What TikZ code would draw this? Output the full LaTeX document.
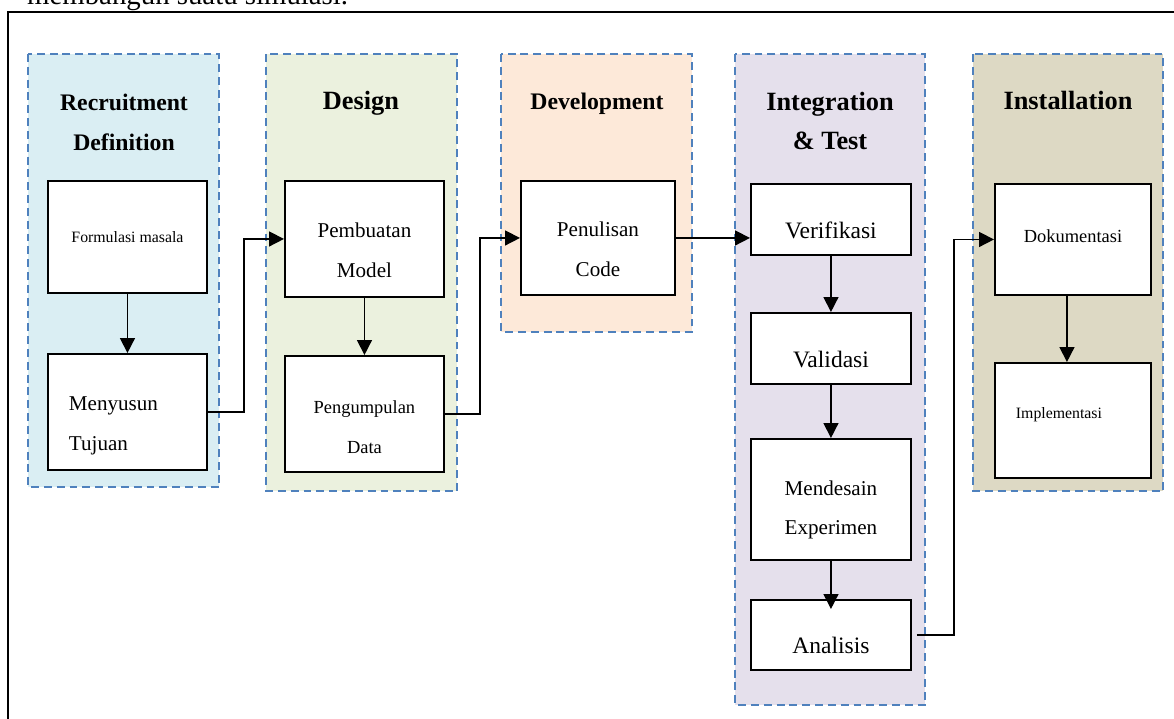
\documentclass[tikz,border=0pt]{standalone}
\usepackage{fontspec}
\setmainfont{Liberation Serif}
\usetikzlibrary{arrows.meta}
\definecolor{dashblue}{HTML}{4F81BD}
\definecolor{reqfill}{HTML}{DAEEF3}
\definecolor{desfill}{HTML}{EBF1DE}
\definecolor{devfill}{HTML}{FDE9D9}
\definecolor{intfill}{HTML}{E5E0EC}
\definecolor{insfill}{HTML}{DDD9C4}
\tikzset{
  panel/.style={draw=dashblue, line width=1.4pt, dash pattern=on 4.5pt off 2.8pt},
  stagebox/.style={draw, line width=1.1pt, fill=white, inner sep=0pt, align=center, anchor=north west},
  sz/.style 2 args={minimum width=#1*0.02cm, minimum height=#2*0.02cm},
  flow/.style={line width=0.9pt, -{Triangle[width=8.5pt,length=8.5pt]}},
  phasetitle/.style={font=\bfseries\fontsize{15}{22.7}\selectfont, align=center},
  bigtxt/.style={font=\fontsize{12}{22.7}\selectfont},
  midtxt/.style={font=\fontsize{10.5}{22.7}\selectfont},
  smalltxt/.style={font=\fontsize{9}{22.7}\selectfont},
}
\begin{document}
\begin{tikzpicture}[x=0.02cm,y=-0.02cm]
\useasboundingbox (0,0) rectangle (1174,719);
%frame
\node[anchor=base west, font=\fontsize{16.4}{20}\selectfont] (intro) at (21,5) {membangun suatu simulasi.};
\draw[line width=0.75pt] (8,740) |- (1190,12);
%panels
\draw[panel, fill=reqfill] (28,54) rectangle (219,487);
\draw[panel, fill=desfill] (266,54) rectangle (457,491);
\draw[panel, fill=devfill] (501,54) rectangle (692,332);
\draw[panel, fill=intfill] (735,54) rectangle (925,705);
\draw[panel, fill=insfill] (973,54) rectangle (1163,491);
%titles
\node[phasetitle, font=\bfseries\fontsize{13.5}{22.7}\selectfont] (reqT) at (124,122) {Recruitment\\Definition};
\node[phasetitle, anchor=base] (desT) at (361,110) {Design};
\node[phasetitle, font=\bfseries\fontsize{13.5}{22.7}\selectfont, anchor=base] (devT) at (597,110) {Development};
\node[phasetitle] (intT) at (830,121) {Integration\\\& Test};
\node[phasetitle, anchor=base] (insT) at (1068,110) {Installation};
%boxes
\node[stagebox, smalltxt, sz={159}{112}] (form) at (47,180) {Formulasi masala};
\node[stagebox, bigtxt, align=left, sz={159}{116}] (meny) at (47,353) {\rule{0pt}{23.6pt}Menyusun\hspace*{0.56cm}\\Tujuan};
\node[stagebox, bigtxt, sz={159}{116}] (pemb) at (284,180) {\rule{0pt}{21pt}Pembuatan\\Model};
\node[stagebox, midtxt, sz={159}{116}] (peng) at (284,355) {\rule{0pt}{22pt}Pengumpulan\\Data};
\node[stagebox, bigtxt, sz={154}{114}] (penu) at (520,180) {\rule{0pt}{21.5pt}Penulisan\\Code};
\node[stagebox, font=\fontsize{13.4}{22.7}\selectfont, sz={160}{71}] (veri) at (750,183) {\rule{0pt}{22pt}Verifikasi};
\node[stagebox, font=\fontsize{13.4}{22.7}\selectfont, sz={160}{71}] (vali) at (750,312) {\rule{0pt}{22pt}Validasi};
\node[stagebox, bigtxt, sz={160}{121}] (mend) at (750,438) {\rule{0pt}{20.2pt}Mendesain\\Experimen};
\node[stagebox, font=\fontsize{13.4}{22.7}\selectfont, sz={160}{70}] (anal) at (750,599) {\rule{0pt}{21.5pt}Analisis};
\node[stagebox, midtxt, sz={156}{111}] (doku) at (994,183) {Dokumentasi\rule[-4.3pt]{0pt}{4.3pt}};
\node[stagebox, smalltxt, sz={156}{115}] (impl) at (994,362) {Implementasi\hspace*{0.56cm}\rule[-9pt]{0pt}{9pt}};
%arrows
\draw[flow] (form) -- (meny);
\draw[flow] (meny.east) -- ++(36,0) |- (pemb.west);
\draw[flow] (pemb) -- (peng);
\draw[flow] ([xshift=-0.04cm]peng.east) -- ++(37,0) |- (penu.west);
\draw[flow] (penu.east) -- (penu.east -| veri.west);
\draw[flow] (veri) -- (vali);
\draw[flow] (vali) -- (mend);
\draw[flow, shorten >=-0.2cm] (mend) -- (anal);
\draw[flow] ([xshift=0.1cm]anal.east) -- ++(37,0) |- (doku.west);
\draw[flow] ([xshift=-0.12cm]doku.south) -- ([xshift=-0.12cm]impl.north);
\end{tikzpicture}
\end{document}
